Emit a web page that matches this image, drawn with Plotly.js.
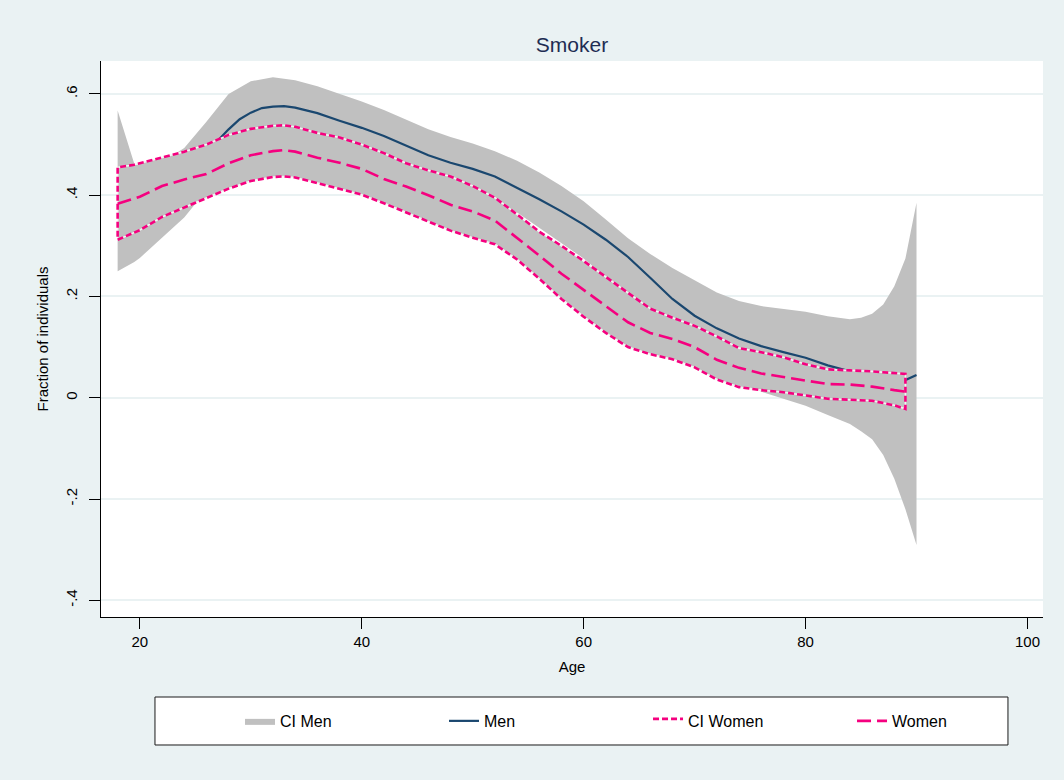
<!DOCTYPE html>
<html>
<head>
<meta charset="utf-8">
<script src="https://cdn.plot.ly/plotly-3.0.1.min.js"></script>
<style>html,body{margin:0;padding:0;background:#EAF2F3;}</style>
</head>
<body>
<div id="chart" style="width:1064px;height:780px;"></div>
<script>
// ---- Data ----
const ciMenAge = [18, 19.5, 20, 22, 24, 26, 28, 30, 32, 34, 36, 38, 40, 42, 44, 46, 48, 50, 52, 54, 56, 58, 60, 62, 64, 66, 68, 70, 72, 74, 76, 78, 80, 82, 84, 85, 86, 87, 88, 89, 90];
const ciMenUpper = [0.567, 0.462, 0.455, 0.465, 0.493, 0.545, 0.600, 0.625, 0.633, 0.627, 0.615, 0.600, 0.585, 0.568, 0.549, 0.530, 0.515, 0.502, 0.487, 0.468, 0.445, 0.418, 0.388, 0.352, 0.315, 0.284, 0.256, 0.232, 0.208, 0.191, 0.181, 0.175, 0.170, 0.161, 0.155, 0.158, 0.166, 0.184, 0.220, 0.275, 0.385];
const ciMenLower = [0.250, 0.268, 0.276, 0.315, 0.356, 0.410, 0.460, 0.500, 0.515, 0.515, 0.505, 0.492, 0.478, 0.463, 0.446, 0.428, 0.413, 0.400, 0.386, 0.366, 0.336, 0.306, 0.275, 0.238, 0.200, 0.168, 0.138, 0.105, 0.070, 0.040, 0.012, -0.002, -0.016, -0.034, -0.052, -0.066, -0.082, -0.113, -0.160, -0.220, -0.291];

const menAge = [18, 20, 22, 24, 26, 27, 28, 29, 30, 31, 32, 33, 34, 36, 38, 40, 42, 44, 46, 48, 50, 52, 54, 56, 58, 60, 62, 64, 66, 68, 70, 72, 74, 76, 78, 80, 82, 84, 86, 88, 89, 90];
const menValues = [0.410, 0.412, 0.430, 0.455, 0.488, 0.507, 0.530, 0.550, 0.563, 0.572, 0.575, 0.576, 0.573, 0.562, 0.547, 0.533, 0.517, 0.498, 0.479, 0.464, 0.452, 0.437, 0.415, 0.392, 0.368, 0.342, 0.312, 0.278, 0.237, 0.195, 0.162, 0.137, 0.117, 0.102, 0.090, 0.079, 0.064, 0.052, 0.045, 0.038, 0.035, 0.045];

const womenAge = [18, 19.5, 20, 22, 24, 26, 28, 30, 32, 33, 34, 36, 38, 40, 42, 44, 46, 48, 50, 52, 54, 56, 58, 60, 62, 64, 66, 68, 70, 72, 74, 76, 78, 80, 82, 84, 86, 88, 89];
const ciWomenUpper = [0.455, 0.460, 0.462, 0.474, 0.486, 0.500, 0.519, 0.531, 0.537, 0.538, 0.535, 0.523, 0.514, 0.500, 0.483, 0.463, 0.449, 0.437, 0.418, 0.395, 0.362, 0.328, 0.300, 0.270, 0.239, 0.207, 0.176, 0.158, 0.142, 0.121, 0.098, 0.090, 0.080, 0.066, 0.056, 0.054, 0.052, 0.049, 0.047];
const womenValues = [0.383, 0.393, 0.397, 0.418, 0.431, 0.442, 0.463, 0.479, 0.487, 0.489, 0.486, 0.474, 0.464, 0.452, 0.432, 0.417, 0.400, 0.381, 0.368, 0.350, 0.316, 0.281, 0.245, 0.213, 0.180, 0.149, 0.128, 0.116, 0.100, 0.075, 0.059, 0.048, 0.041, 0.034, 0.027, 0.026, 0.022, 0.015, 0.012];
const ciWomenLower = [0.312, 0.327, 0.331, 0.357, 0.376, 0.394, 0.413, 0.428, 0.436, 0.437, 0.435, 0.424, 0.413, 0.401, 0.384, 0.366, 0.349, 0.330, 0.316, 0.303, 0.273, 0.235, 0.195, 0.160, 0.128, 0.100, 0.086, 0.076, 0.060, 0.036, 0.021, 0.015, 0.011, 0.005, -0.002, -0.004, -0.006, -0.015, -0.022];

const xTicks = [20, 40, 60, 80, 100];
const yTickVals = [-0.4, -0.2, 0, 0.2, 0.4, 0.6];
const yTickText = ['-.4', '-.2', '0', '.2', '.4', '.6'];
const legendNames = ['CI Men', 'Men', 'CI Women', 'Women'];

// ---- build closed band polygons from the arrays ----
function band(xs, lo, hi) {
  const x = xs.concat(xs.slice().reverse(), [xs[0]]);
  const y = lo.concat(hi.slice().reverse(), [lo[0]]);
  return {x, y};
}
const menBand = band(ciMenAge, ciMenLower, ciMenUpper);
const womenBand = band(womenAge, ciWomenLower, ciWomenUpper);

const GRAY = '#C0C0C0';
const NAVY = '#1A476F';
const PINK = '#F5007F';
const BG = '#EAF2F3';
const FONT = 'Liberation Sans, Arial, Helvetica, sans-serif';

const traces = [
  {x: menBand.x, y: menBand.y, type: 'scatter', mode: 'lines', fill: 'toself',
   fillcolor: GRAY, line: {width: 0, color: GRAY}, name: legendNames[0], hoverinfo: 'skip'},
  {x: menAge, y: menValues, type: 'scatter', mode: 'lines',
   line: {color: NAVY, width: 2.2}, name: legendNames[1]},
  {x: womenBand.x, y: womenBand.y, type: 'scatter', mode: 'lines', fill: 'toself',
   fillcolor: GRAY, line: {width: 0, color: GRAY}, showlegend: false, hoverinfo: 'skip'},
  {x: womenBand.x, y: womenBand.y, type: 'scatter', mode: 'lines',
   line: {color: '#F4F4F4', width: 1.6}, showlegend: false, hoverinfo: 'skip'},
  {x: womenBand.x, y: womenBand.y, type: 'scatter', mode: 'lines', fill: 'toself',
   fillcolor: 'rgba(255,255,255,0)', line: {color: PINK, width: 2.6, dash: '6px,3px'},
   name: legendNames[2], hoverinfo: 'skip'},
  {x: womenAge, y: womenValues, type: 'scatter', mode: 'lines',
   line: {color: PINK, width: 2.6, dash: '14px,6px'}, name: legendNames[3]}
];

const layout = {
  width: 1064, height: 780,
  paper_bgcolor: BG, plot_bgcolor: '#FFFFFF',
  margin: {l: 101, r: 21, t: 61, b: 163, pad: 0, autoexpand: false},
  font: {family: FONT, size: 15, color: '#000000'},
  title: {text: 'Smoker', font: {family: FONT, size: 21, color: '#1E2D53'},
          x: 0.5, xref: 'paper', xanchor: 'center', y: 1 - 45/780, yref: 'container', yanchor: 'middle'},
  showlegend: true,
  legend: {orientation: 'h', x: 0.5807, xanchor: 'center', y: -0.187, yanchor: 'middle',
           bgcolor: 'rgba(0,0,0,0)', borderwidth: 0, font: {family: FONT, size: 16, color: '#000'},
           entrywidth: 159, entrywidthmode: 'pixels', traceorder: 'normal'},
  xaxis: {range: [16.5, 101.4], tickvals: xTicks, ticks: 'outside', ticklen: 11, tickcolor: '#000',
          tickwidth: 1, showline: true, linecolor: '#000', linewidth: 1, showgrid: false, zeroline: false,
          tickfont: {family: FONT, size: 15, color: '#000'},
          title: {text: 'Age', font: {family: FONT, size: 15, color: '#000'}, standoff: 12}},
  yaxis: {range: [-0.433, 0.665], tickvals: yTickVals, ticktext: yTickText, tickangle: -90,
          ticks: 'outside', ticklen: 11, tickcolor: '#000', tickwidth: 1, ticklabelstandoff: 6,
          showline: true, linecolor: '#000', linewidth: 1, showgrid: true, gridcolor: BG, gridwidth: 2,
          zeroline: false, tickfont: {family: FONT, size: 15, color: '#000'},
          title: {text: 'Fraction of individuals', font: {family: FONT, size: 15, color: '#000'}, standoff: 10}},
  shapes: [
    {type: 'rect', xref: 'paper', yref: 'paper', x0: 0.0573, x1: 0.9628, y0: -0.2302, y1: -0.1439,
     fillcolor: '#FFFFFF', line: {color: '#1a1a1a', width: 1}, layer: 'above'}
  ]
};

Plotly.newPlot('chart', traces, layout, {displayModeBar: false, staticPlot: true});
</script>
</body>
</html>
